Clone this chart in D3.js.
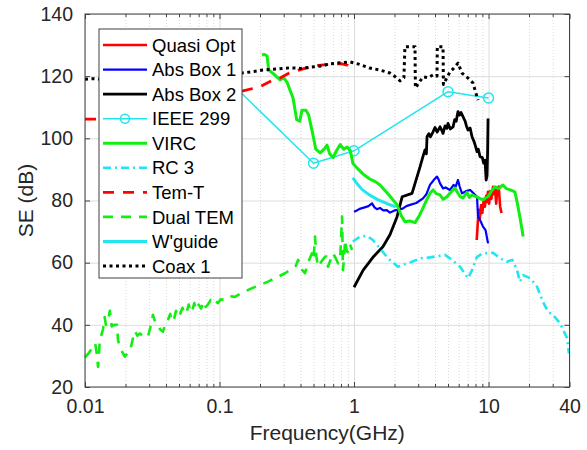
<!DOCTYPE html>
<html>
<head>
<meta charset="utf-8">
<style>
    body { margin: 0; background: white; }
    svg { font-family: 'Liberation Sans', Arial, sans-serif; }
    .tick text { fill: #262626; }
</style>
</head>
<body>
<svg width="587" height="450"></svg>
<script src="https://d3js.org/d3.v7.min.js"></script>
<script>

    // ---- data: [frequency GHz, SE dB] ----
    const quasiOpt = [[8.17, 67.3], [8.3, 72], [8.45, 77], [8.6, 74], [8.8, 78.5], [9.0, 76], [9.2, 80.2], [9.4, 78], [9.6, 81.5],
        [9.75, 79.5], [9.9, 82.8], [10.1, 79], [10.3, 83], [10.5, 80.5], [10.8, 84.4], [11.0, 82], [11.2, 84], [11.4, 79],
        [11.6, 83.5], [11.9, 84.5], [12.2, 78], [12.5, 76]]
    const absBox1 = [[1.0, 76.4], [1.05, 76.8], [1.1, 77.3], [1.2, 77.8], [1.28, 78.2], [1.36, 79.1], [1.42, 77.8], [1.48, 77.2],
        [1.56, 77.6], [1.65, 76.8], [1.75, 76.9], [1.85, 76.1], [2.0, 76.8], [2.12, 77], [2.3, 77.4], [2.45, 78.2],
        [2.61, 78.6], [2.9, 79.2], [3.26, 80.7], [3.45, 82], [3.67, 85], [3.9, 86.5], [4.14, 87.7], [4.25, 86.8],
        [4.36, 85.5], [4.59, 83.9], [4.8, 84.2], [5.17, 83.4], [5.5, 85], [5.7, 84.5], [5.93, 86.6], [6.1, 84.5],
        [6.35, 82.3], [6.8, 83], [7.28, 83.4], [7.67, 82.5], [8.21, 81.2], [8.36, 74.8], [8.7, 73.5], [9.1, 71.6],
        [9.5, 70.5], [9.92, 66.2]]
    const absBox2 = [[1.0, 52.1], [1.17, 57.6], [1.4, 62], [1.64, 65.1], [1.85, 69], [2.09, 74.8], [2.28, 81.2], [2.7, 82.3],
        [3.1, 90.9], [3.25, 94], [3.37, 96.3], [3.45, 95], [3.49, 100.5], [3.6, 101.5], [3.7, 100.5], [3.87, 102.1],
        [4.0, 103.5], [4.15, 102], [4.36, 103.7], [4.5, 102.5], [4.59, 101.6], [4.75, 104], [4.9, 103.2], [5.0, 104.8],
        [5.2, 103], [5.45, 103.7], [5.6, 106], [5.75, 105.5], [5.93, 108.6], [6.1, 107.5], [6.25, 108.3], [6.46, 107],
        [6.7, 105.5], [6.85, 104], [7.04, 102.7], [7.3, 103.3], [7.54, 100.5], [7.8, 99], [8.0, 97.5], [8.21, 95.7],
        [8.4, 96.5], [8.65, 94.1], [9.0, 93.8], [9.2, 92], [9.42, 93], [9.6, 86.6], [9.75, 88], [9.85, 96], [9.92, 106.4]]
    const ieee299 = [[0.1, 121.4], [0.5, 92], [1, 96], [5, 115], [10, 113]]
    const virc = [[0.207, 126.8], [0.215, 127], [0.226, 126.5], [0.232, 122], [0.25, 120.9], [0.282, 118.8], [0.3, 119.5],
        [0.318, 118], [0.352, 113], [0.375, 106], [0.395, 105.5], [0.41, 109], [0.44, 109], [0.46, 107.5], [0.49, 102],
        [0.52, 96.5], [0.56, 95.3], [0.6, 96.5], [0.63, 97.8], [0.66, 95], [0.7, 93.8], [0.74, 96], [0.79, 98], [0.84, 96.5],
        [0.89, 97.2], [0.94, 96], [0.98, 92], [1.05, 90.5], [1.17, 88.5], [1.3, 87], [1.45, 86], [1.56, 85], [1.8, 82],
        [2.09, 78.6], [2.25, 75], [2.39, 73.2], [2.6, 73.4], [2.84, 72.9], [3.05, 75], [3.26, 77.6], [3.5, 80.5],
        [3.7, 82.5], [3.87, 83.4], [4.1, 82.2], [4.36, 81.8], [4.6, 80.4], [4.91, 81.2], [5.2, 82.5], [5.63, 84],
        [5.9, 82.5], [6.15, 81.3], [6.46, 80.8], [6.9, 82.6], [7.2, 81], [7.54, 81.8], [8.3, 81], [9.1, 80.2],
        [9.5, 80.8], [9.92, 81.2], [10.5, 83], [11.2, 84.4], [11.9, 83.8], [12.8, 85], [13.6, 83.8], [14.5, 83.4],
        [15.7, 82.8], [16.4, 79], [17.1, 74.8], [18.1, 68.4]]
    const rc3 = [[0.98, 66.8], [1.11, 68.4], [1.25, 68.6], [1.38, 67.3], [1.56, 64.6], [1.79, 61.4], [2.12, 58.7], [2.31, 59.3],
        [2.7, 60.3], [3.1, 61.4], [3.67, 61.7], [4.75, 62.5], [5.17, 61.4], [6.14, 58.7], [7.04, 55], [7.54, 57.6],
        [8.21, 61.9], [9.1, 63], [10.8, 63.2], [12.2, 61.4], [13.7, 60.3], [15.0, 60.9], [16.3, 57.6], [17.1, 53.9],
        [18.1, 56], [20.4, 55], [22.9, 52.3], [25.4, 47.4], [27.7, 44.2], [30.2, 43.2], [34.0, 40.5], [38.4, 35.7], [39.6, 30.8]]
    const temT = [[0.01, 106.2], [0.0127, 106.2], [0.02, 107], [0.05, 110], [0.1, 113], [0.147, 115.2], [0.2, 116.6],
        [0.25, 118.8], [0.28, 119.3], [0.33, 121], [0.43, 122.5], [0.55, 123.5], [0.7, 124], [0.8, 124], [0.9, 123.5], [0.97, 122]]
    const dualTem = [[0.0100, 29.5], [0.0107, 31], [0.0113, 32.5], [0.0119, 34], [0.0123, 30], [0.0125, 26.5], [0.0129, 35],
        [0.0133, 37], [0.0136, 38.5], [0.0140, 42.5], [0.0143, 40], [0.0148, 41], [0.0153, 44.5], [0.0158, 39.5],
        [0.0165, 40], [0.0173, 40], [0.0176, 35], [0.0185, 32], [0.0198, 29.8], [0.0208, 31], [0.0216, 31.5], [0.0228, 36],
        [0.0235, 38], [0.0245, 36.5], [0.0256, 37.2], [0.0275, 36], [0.0294, 36.2], [0.0305, 39], [0.0320, 43.2],
        [0.0332, 41], [0.0343, 40.5], [0.0362, 38.5], [0.0380, 37.8], [0.0395, 40], [0.0414, 41.6], [0.043, 43.5],
        [0.0445, 41], [0.046, 42], [0.0475, 44.5], [0.049, 42.5], [0.051, 43.5], [0.053, 45.5], [0.055, 43.5], [0.057, 44],
        [0.059, 46.5], [0.061, 44], [0.063, 45], [0.065, 47], [0.067, 44.8], [0.07, 46.5], [0.073, 45.2], [0.076, 47.5],
        [0.079, 45.8], [0.082, 46.5], [0.086, 48], [0.09, 46.8], [0.094, 47.5], [0.0975, 47], [0.102, 48.2], [0.11, 48],
        [0.12, 49.2], [0.1304, 49], [0.15, 50.5], [0.1745, 51.8], [0.2, 52.8], [0.2294, 53.9], [0.265, 55.2], [0.307, 56.6],
        [0.34, 57.8], [0.37, 59], [0.384, 60.9], [0.40, 58], [0.415, 57.5], [0.432, 56.6], [0.455, 60], [0.487, 63],
        [0.500, 61], [0.513, 68.4], [0.525, 62], [0.54, 58.7], [0.575, 60.5], [0.609, 61.9], [0.625, 62], [0.641, 58.7],
        [0.67, 61], [0.698, 63], [0.73, 61.5], [0.761, 59.8], [0.79, 62], [0.815, 74.8], [0.828, 57.6], [0.845, 62],
        [0.857, 67.3], [0.88, 64], [0.91, 63], [0.94, 65.5], [0.967, 64.1]]
    const wguide = [[0.98, 87.3], [1.05, 85.5], [1.15, 83.5], [1.3, 81.8], [1.5, 80.3], [1.8, 78.8], [2.05, 78]]
    const coax1 = [[0.01, 119], [0.0115, 119.2], [0.013, 119], [0.02, 119.5], [0.05, 120], [0.1, 120.5], [0.147, 121],
        [0.18, 121.5], [0.21, 122], [0.27, 122.3], [0.334, 122.7], [0.4, 122.5], [0.5, 123], [0.58, 123.3], [0.663, 124],
        [0.8, 124.3], [0.935, 124.6], [1.1, 123.8], [1.31, 122.6], [1.55, 122], [1.85, 121], [2.0, 120], [2.2, 118.5],
        [2.35, 119.5], [2.39, 129.5], [2.84, 129.5], [2.86, 116.2], [3.05, 118], [3.26, 119.8], [3.55, 119.5],
        [3.87, 120.4], [4.14, 120], [4.16, 129.5], [4.59, 129.5], [4.62, 117.3], [5.17, 121.4], [5.5, 122.5],
        [5.93, 124.2], [6.35, 121], [7.04, 119.4], [7.67, 117.8], [8.0, 115], [8.36, 112.3]]

    const seriesNames = ["Quasi Opt", "Abs Box 1", "Abs Box 2", "IEEE 299", "VIRC", "RC 3", "Tem-T", "Dual TEM", "W'guide", "Coax 1"]
    const xTicks = [0.01, 0.1, 1, 10, 40]
    const xTickLabels = ["0.01", "0.1", "1", "10", "40"]
    const yTicks = [20, 40, 60, 80, 100, 120, 140]

    // ---- layout ----
    let mLeft = 85, mRight = 569.5, mTop = 14, mBottom = 387

    let svg = d3.select("svg")

    let x = d3.scaleLog().domain([0.01, 40]).range([mLeft, mRight])
    let y = d3.scaleLinear().domain([20, 140]).range([mBottom, mTop])

    // minor x positions (2..9 of each decade)
    let xMinor = []
    for (let p = -2; p <= 1; p++) {
        for (let k = 2; k <= 9; k++) {
            let v = k * Math.pow(10, p)
            if (v < 40) xMinor.push(v)
        }
    }

    let plotH = mBottom - mTop
    let plotW = mRight - mLeft

    // grid
    let gridMinor = svg.append("g")
        .attr("transform", `translate(0,${mBottom})`)
        .call(d3.axisBottom(x).tickValues(xMinor).tickSize(-plotH).tickFormat(""))
    gridMinor.select(".domain").remove()
    gridMinor.selectAll("line").style("stroke", "#d9d9d9").style("stroke-dasharray", "1,2")

    let gridX = svg.append("g")
        .attr("transform", `translate(0,${mBottom})`)
        .call(d3.axisBottom(x).tickValues(xTicks).tickSize(-plotH).tickFormat(""))
    gridX.select(".domain").remove()
    gridX.selectAll("line").style("stroke", "#dcdcdc")

    let gridY = svg.append("g")
        .attr("transform", `translate(${mLeft},0)`)
        .call(d3.axisLeft(y).tickValues(yTicks).tickSize(-plotW).tickFormat(""))
    gridY.select(".domain").remove()
    gridY.selectAll("line").style("stroke", "#dcdcdc")

    // data lines
    let line = d3.line().x(d => x(d[0])).y(d => y(d[1]))

    let styles = [
        { data: quasiOpt, color: "#ff0000", width: 2.6, dash: null },
        { data: absBox1, color: "#0000ff", width: 2.2, dash: null },
        { data: absBox2, color: "#000000", width: 2.8, dash: null },
        { data: ieee299, color: "#22e6ee", width: 1.5, dash: null, marker: true },
        { data: virc, color: "#11ee11", width: 3, dash: null },
        { data: rc3, color: "#22e6ee", width: 2.6, dash: "8,4,2,4" },
        { data: temT, color: "#ff0000", width: 2.8, dash: "11,9" },
        { data: dualTem, color: "#11ee11", width: 2.6, dash: "10,8" },
        { data: wguide, color: "#22e6ee", width: 3, dash: null },
        { data: coax1, color: "#000000", width: 3, dash: "3,3.5" }
    ]

    let plot = svg.append("g")

    styles.forEach(s => {
        plot.append("path")
            .datum(s.data)
            .attr("d", line)
            .style("fill", "none")
            .style("stroke", s.color)
            .style("stroke-width", s.width)
            .style("stroke-linejoin", "round")
            .style("stroke-dasharray", s.dash)
        if (s.marker) {
            plot.selectAll(".mk")
                .data(s.data.filter(d => d[0] > 0.2))
                .join("circle")
                .attr("cx", d => x(d[0]))
                .attr("cy", d => y(d[1]))
                .attr("r", 5)
                .style("fill", "none")
                .style("stroke", s.color)
                .style("stroke-width", 1.5)
        }
    })

    // axes with inward ticks on all four sides
    function tidy(g) {
        g.select(".domain").remove()
        g.selectAll("line").style("stroke", "#404040")
    }
    svg.append("g").attr("transform", `translate(0,${mBottom})`)
        .call(d3.axisBottom(x).tickValues(xMinor).tickSize(-3).tickFormat("")).call(tidy)
    svg.append("g").attr("transform", `translate(0,${mTop})`)
        .call(d3.axisTop(x).tickValues(xMinor).tickSize(-3).tickFormat("")).call(tidy)
    svg.append("g").attr("transform", `translate(0,${mTop})`)
        .call(d3.axisTop(x).tickValues(xTicks).tickSize(-5).tickFormat("")).call(tidy)
    svg.append("g").attr("transform", `translate(${mRight},0)`)
        .call(d3.axisRight(y).tickValues(yTicks).tickSize(-5).tickFormat("")).call(tidy)

    let xAxis = svg.append("g").attr("transform", `translate(0,${mBottom})`)
        .call(d3.axisBottom(x).tickValues(xTicks).tickSize(-5).tickPadding(12)
            .tickFormat((d, i) => xTickLabels[i]))
    xAxis.call(tidy)
    xAxis.selectAll("text").style("font-size", "19.5px")

    let yAxis = svg.append("g").attr("transform", `translate(${mLeft},0)`)
        .call(d3.axisLeft(y).tickValues(yTicks).tickSize(-5).tickPadding(12))
    yAxis.call(tidy)
    yAxis.selectAll("text").style("font-size", "19.5px")

    svg.append("rect")
        .attr("x", mLeft).attr("y", mTop)
        .attr("width", plotW).attr("height", plotH)
        .style("fill", "none").style("stroke", "#404040").style("stroke-width", 1)

    // axis labels
    svg.append("text")
        .attr("x", (mLeft + mRight) / 2).attr("y", 440)
        .attr("text-anchor", "middle")
        .style("font-size", "21px").style("fill", "#262626")
        .text("Frequency(GHz)")

    svg.append("text")
        .attr("transform", `translate(33,${(mTop + mBottom) / 2}) rotate(-90)`)
        .attr("text-anchor", "middle")
        .style("font-size", "21px").style("fill", "#262626")
        .text("SE (dB)")

    // legend
    let legend = svg.append("g")
    legend.append("rect")
        .attr("x", 99).attr("y", 29).attr("width", 143).attr("height", 249)
        .style("fill", "white").style("stroke", "#404040").style("stroke-width", 1)

    let rowY = d3.scaleLinear().domain([0, 9]).range([45, 266])

    seriesNames.forEach((name, i) => {
        let s = styles[i]
        let yy = rowY(i)
        legend.append("line")
            .attr("x1", 103).attr("x2", 147).attr("y1", yy).attr("y2", yy)
            .style("stroke", s.color)
            .style("stroke-width", s.width)
            .style("stroke-dasharray", s.dash)
        if (s.marker) {
            legend.append("circle")
                .attr("cx", 125).attr("cy", yy).attr("r", 4.5)
                .style("fill", "none").style("stroke", s.color).style("stroke-width", 1.5)
        }
        legend.append("text")
            .attr("x", 152).attr("y", yy)
            .attr("dy", "0.36em")
            .style("font-size", "18.5px").style("fill", "#000")
            .text(name)
    })

</script>
</body>
</html>
